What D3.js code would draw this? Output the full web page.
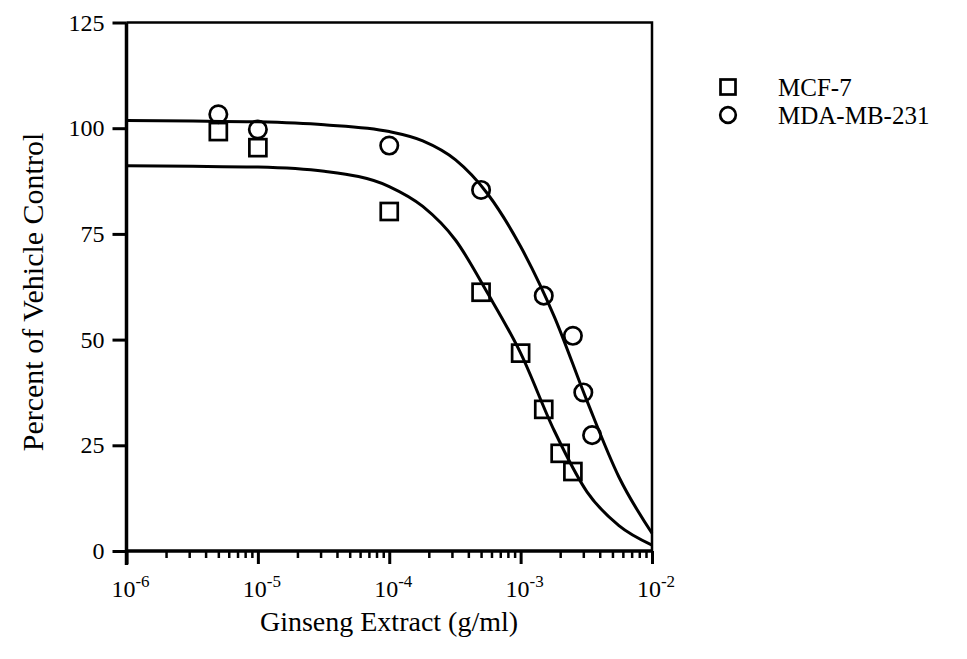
<!DOCTYPE html>
<html>
<head>
<meta charset="utf-8">
<script src="https://cdn.jsdelivr.net/npm/d3@7"></script>
<style>
	body { margin: 0; background: #fff; }
	svg { display: block; font-family: 'Liberation Serif', 'Times New Roman', serif; }
</style>
</head>
<body>
<div id="chart"></div>
<script>
// measured data (g/ml vs percent of vehicle control)
const mcfDoses = [5e-6, 1e-5, 1e-4, 5e-4, 1e-3, 1.5e-3, 2e-3, 2.5e-3]
const mcfValues = [99.2, 95.4, 80.3, 61.2, 46.8, 33.5, 23.1, 18.8]
const mdaDoses = [5e-6, 1e-5, 1e-4, 5e-4, 1.5e-3, 2.5e-3, 3e-3, 3.5e-3]
const mdaValues = [103.3, 99.7, 95.9, 85.4, 60.4, 50.9, 37.5, 27.4]

// fitted curves
const fitDoses = [1e-6, 3.2e-6, 1e-5, 3.2e-5, 1e-4, 1.8e-4, 3.2e-4, 5.6e-4, 1e-3, 1.8e-3, 3.2e-3, 5.6e-3, 1e-2]
const mcfFit = [91.1, 91.0, 90.8, 89.8, 86.2, 81.5, 73.5, 61, 46.8, 28.5, 14, 6, 1.4]
const mdaFit = [101.8, 101.7, 101.5, 100.8, 99.2, 97, 92.5, 84.5, 72, 55.5, 35.5, 17.5, 4.2]

const yTicks = [0, 25, 50, 75, 100, 125]
const xDecades = [1e-6, 1e-5, 1e-4, 1e-3, 1e-2]
const xExponents = ['-6', '-5', '-4', '-3', '-2']
const seriesNames = ['MCF-7', 'MDA-MB-231']

const width = 967
const height = 659
const margin = { top: 22.5, right: 315, bottom: 108, left: 126.5 }

const x = d3.scaleLog().domain([1e-6, 1e-2]).range([margin.left, width - margin.right])
const y = d3.scaleLinear().domain([0, 125]).range([height - margin.bottom, margin.top])

const svg = d3.select('#chart')
	.append('svg')
	.attr('width', width)
	.attr('height', height)

//frame (top and right sides)
svg.append('path')
	.attr('d', `M${x.range()[0]},${y(125)}H${x.range()[1]}V${y(0)}`)
	.attr('fill', 'none')
	.attr('stroke', '#000')
	.attr('stroke-width', 2.5)

// minor ticks on the log axis
const minorTicks = []
xDecades.slice(0, -1).forEach(d => {
	for (let k = 2; k < 10; k++) minorTicks.push(d * k)
})

svg.append('g')
	.attr('transform', `translate(0,${y(0)})`)
	.call(d3.axisBottom(x).tickValues(minorTicks).tickSize(7).tickFormat(''))
	.call(g => g.select('.domain').remove())
	.call(g => g.selectAll('line').attr('stroke-width', 2.5))

svg.append('g')
	.attr('transform', `translate(0,${y(0)})`)
	.call(d3.axisBottom(x).tickValues(xDecades).tickSize(13).tickFormat(''))
	.call(g => g.select('.domain').remove())
	.call(g => g.selectAll('line').attr('stroke-width', 3))

// x tick labels 10^n
const xLabels = svg.append('g')
	.selectAll('text')
	.data(xDecades)
	.join('text')
	.attr('x', d => x(d) + 4)
	.attr('y', 597)
	.attr('text-anchor', 'middle')
	.attr('font-size', 24)
xLabels.append('tspan').text('10')
xLabels.append('tspan')
	.attr('dy', -10)
	.attr('font-size', 17)
	.text((d, i) => xExponents[i])

// y axis
svg.append('g')
	.attr('transform', `translate(${x.range()[0]},0)`)
	.call(d3.axisLeft(y).tickValues(yTicks).tickSize(14).tickPadding(8))
	.attr('font-family', null)
	.attr('font-size', 24)
	.call(g => g.select('.domain').remove())
	.call(g => g.selectAll('line').attr('stroke-width', 3))
	.call(g => g.selectAll('text').attr('fill', '#000'))

// axis lines
svg.append('line')
	.attr('x1', x.range()[0]).attr('x2', x.range()[1])
	.attr('y1', y(0)).attr('y2', y(0))
	.attr('stroke', '#000').attr('stroke-width', 3.5)
svg.append('line')
	.attr('x1', x.range()[0]).attr('x2', x.range()[0])
	.attr('y1', y(125)).attr('y2', y(0) + 14)
	.attr('stroke', '#000').attr('stroke-width', 3.5)

// fitted curves
const line = d3.line()
	.x(d => x(d[0]))
	.y(d => y(d[1]))
	.curve(d3.curveMonotoneX)

svg.append('g')
	.attr('fill', 'none')
	.attr('stroke', '#000')
	.attr('stroke-width', 3)
	.selectAll('path')
	.data([mcfFit, mdaFit])
	.join('path')
	.attr('d', vals => line(fitDoses.map((d, i) => [d, vals[i]])))

// markers
const sq = 17
svg.append('g')
	.selectAll('rect')
	.data(mcfDoses.map((d, i) => [d, mcfValues[i]]))
	.join('rect')
	.attr('x', d => x(d[0]) - sq / 2)
	.attr('y', d => y(d[1]) - sq / 2)
	.attr('width', sq)
	.attr('height', sq)
	.attr('fill', 'none')
	.attr('stroke', '#000')
	.attr('stroke-width', 2.7)

svg.append('g')
	.selectAll('circle')
	.data(mdaDoses.map((d, i) => [d, mdaValues[i]]))
	.join('circle')
	.attr('cx', d => x(d[0]))
	.attr('cy', d => y(d[1]))
	.attr('r', 8.7)
	.attr('fill', 'none')
	.attr('stroke', '#000')
	.attr('stroke-width', 2.7)

// axis titles
svg.append('text')
	.attr('x', 389)
	.attr('y', 631)
	.attr('text-anchor', 'middle')
	.attr('font-size', 28)
	.text('Ginseng Extract (g/ml)')

svg.append('text')
	.attr('transform', `translate(43,292) rotate(-90)`)
	.attr('text-anchor', 'middle')
	.attr('font-size', 30)
	.text('Percent of Vehicle Control')

// legend
const legend = svg.append('g')
	.selectAll('g')
	.data(seriesNames)
	.join('g')
	.attr('transform', (d, i) => `translate(728,${87 + i * 28})`)

legend.filter((d, i) => i === 0)
	.append('rect')
	.attr('x', -7.5).attr('y', -7.5)
	.attr('width', 15).attr('height', 15)
	.attr('fill', 'none').attr('stroke', '#000').attr('stroke-width', 2.7)

legend.filter((d, i) => i === 1)
	.append('circle')
	.attr('r', 7.8)
	.attr('fill', 'none').attr('stroke', '#000').attr('stroke-width', 2.7)

legend.append('text')
	.attr('x', 50)
	.attr('dy', '0.35em')
	.attr('font-size', 25)
	.text(d => d)
</script>
</body>
</html>
